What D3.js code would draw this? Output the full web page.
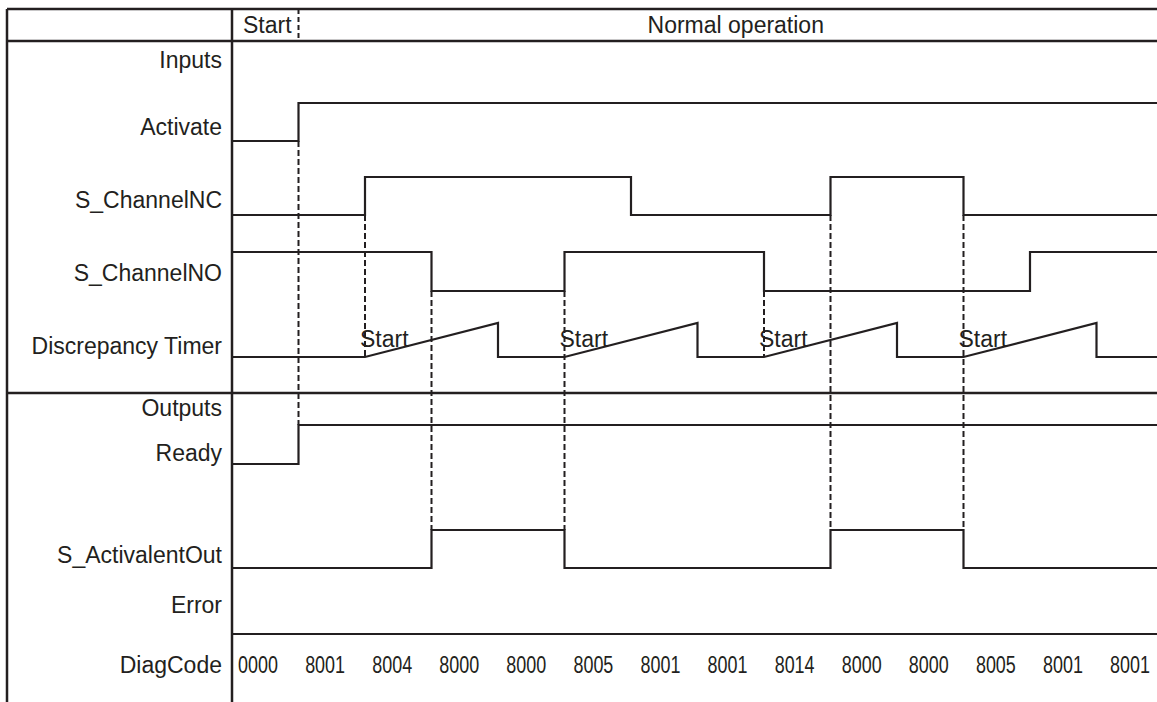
<!DOCTYPE html>
<html>
<head>
<meta charset="utf-8">
<script src="https://cdn.jsdelivr.net/npm/d3@7"></script>
<style>
  html, body { margin: 0; padding: 0; background: #fff; }
  svg { display: block; }
  text { font-family: "Liberation Sans", Arial, Helvetica, sans-serif; fill: #231f20; }
</style>
</head>
<body>
<svg id="chart" width="1157" height="702"></svg>
<script>
// ---------------- data ----------------
const phases = ["Start", "Normal operation"];
const phaseBounds = [[0, 1], [1, 14]];

const inputSignals = ["Activate", "S_ChannelNC", "S_ChannelNO", "Discrepancy Timer"];
const outputSignals = ["Ready", "S_ActivalentOut", "Error"];

// [time, level] change points
const activate      = [[0, 0], [1, 1], [14, 1]];
const channelNC     = [[0, 0], [2, 1], [6, 0], [9, 1], [11, 0], [14, 0]];
const channelNO     = [[0, 1], [3, 0], [5, 1], [8, 0], [12, 1], [14, 1]];
const timer         = [[0, 0], [2, 0], [4, 1], [4, 0], [5, 0], [7, 1], [7, 0], [8, 0], [10, 1], [10, 0], [11, 0], [13, 1], [13, 0], [14, 0]];
const ready         = [[0, 0], [1, 1], [14, 1]];
const activalentOut = [[0, 0], [3, 1], [5, 0], [9, 1], [11, 0], [14, 0]];
const errorSig      = [[0, 0], [14, 0]];

const timerStarts = [2, 5, 8, 11];
const diagCodes = ["0000", "8001", "8004", "8000", "8000", "8005", "8001", "8001", "8014", "8000", "8000", "8005", "8001", "8001"];

// dashed cause/effect markers: time, from signal (level), to signal (level)
const markers = [
  { t: 2,  from: ["S_ChannelNC", 0], to: ["Discrepancy Timer", 0] },
  { t: 3,  from: ["S_ChannelNO", 0], to: ["S_ActivalentOut", 1] },
  { t: 5,  from: ["S_ChannelNO", 0], to: ["S_ActivalentOut", 1] },
  { t: 8,  from: ["S_ChannelNO", 0], to: ["Discrepancy Timer", 0] },
  { t: 9,  from: ["S_ChannelNC", 0], to: ["S_ActivalentOut", 1] },
  { t: 11, from: ["S_ChannelNC", 0], to: ["S_ActivalentOut", 1] },
  { t: 1,  from: ["Activate", 0],    to: ["Ready", 1] }
];

// ---------------- layout ----------------
const W = 1157, H = 702;
const frameLeft = 7, divX = 232, frameTop = 9, headBot = 41, ioDiv = 393;
const ink = "#231f20";
const FS = 23;

// row geometry: label centre, low y, high y
const rows = {
  "Inputs":            { label: 60 },
  "Activate":          { label: 127, lo: 141, hi: 103 },
  "S_ChannelNC":       { label: 200, lo: 215, hi: 177 },
  "S_ChannelNO":       { label: 273, lo: 291, hi: 252 },
  "Discrepancy Timer": { label: 346, lo: 357, hi: 323 },
  "Outputs":           { label: 408 },
  "Ready":             { label: 453, lo: 464, hi: 425 },
  "S_ActivalentOut":   { label: 555, lo: 568, hi: 530 },
  "Error":             { label: 605, lo: 634, hi: 596 },
  "DiagCode":          { label: 665 }
};

const x = d3.scaleLinear().domain([0, 14]).range([divX, divX + 14 * 66.5]);
const yOf = name => d3.scaleLinear().domain([0, 1]).range([rows[name].lo, rows[name].hi]);

const svg = d3.select("#chart");

// frame
const frame = svg.append("g").attr("stroke", ink).attr("stroke-width", 2.5).attr("fill", "none");
frame.append("line").attr("x1", frameLeft).attr("x2", W).attr("y1", frameTop).attr("y2", frameTop);
frame.append("line").attr("x1", frameLeft).attr("x2", W).attr("y1", headBot).attr("y2", headBot);
frame.append("line").attr("x1", frameLeft).attr("x2", W).attr("y1", ioDiv).attr("y2", ioDiv);
frame.append("line").attr("x1", frameLeft).attr("x2", frameLeft).attr("y1", frameTop).attr("y2", H);
frame.append("line").attr("x1", divX).attr("x2", divX).attr("y1", frameTop).attr("y2", H);

// header phases
svg.append("line")
  .attr("x1", x(phaseBounds[0][1])).attr("x2", x(phaseBounds[0][1]))
  .attr("y1", frameTop).attr("y2", headBot)
  .attr("stroke", ink).attr("stroke-width", 2).attr("stroke-dasharray", "5,3");
svg.append("text").attr("x", x(0) + 11).attr("y", 33).attr("font-size", FS).text(phases[0]);
svg.append("text").attr("x", (x(1) + W) / 2 + 8).attr("y", 33).attr("font-size", FS)
  .attr("text-anchor", "middle").text(phases[1]);

// labels
Object.keys(rows).forEach(name => {
  svg.append("text")
    .attr("x", 222).attr("y", rows[name].label + 8)
    .attr("font-size", FS).attr("text-anchor", "end").text(name);
});

// dashed markers
svg.append("g").selectAll("line").data(markers).join("line")
  .attr("x1", d => x(d.t)).attr("x2", d => x(d.t))
  .attr("y1", d => yOf(d.from[0])(d.from[1]))
  .attr("y2", d => yOf(d.to[0])(d.to[1]))
  .attr("stroke", ink).attr("stroke-width", 2).attr("stroke-dasharray", "6,3");

// signals
const sigs = [
  ["Activate", activate, true], ["S_ChannelNC", channelNC, true], ["S_ChannelNO", channelNO, true],
  ["Discrepancy Timer", timer, false], ["Ready", ready, true], ["S_ActivalentOut", activalentOut, true],
  ["Error", errorSig, true]
];
sigs.forEach(([name, data, step]) => {
  const y = yOf(name);
  const line = d3.line().x(d => x(d[0])).y(d => y(d[1]))
    .curve(step ? d3.curveStepAfter : d3.curveLinear);
  svg.append("path").datum(data).attr("d", line)
    .attr("fill", "none").attr("stroke", ink).attr("stroke-width", 2.2)
    .attr("stroke-linejoin", "miter");
});

// timer start labels
const yT = yOf("Discrepancy Timer");
svg.append("g").selectAll("text").data(timerStarts).join("text")
  .attr("x", d => x(d) - 5).attr("y", yT(0) - 10)
  .attr("font-size", FS).text("Start");

// diag codes (narrow digits)
const xc = d3.scalePoint().domain(d3.range(diagCodes.length)).range([258, 1130]);
svg.append("g").selectAll("text").data(diagCodes).join("text")
  .attr("transform", (d, i) => `translate(${xc(i)},${rows["DiagCode"].label + 8}) scale(0.78,1)`)
  .attr("font-size", FS).attr("text-anchor", "middle")
  .text(d => d);
</script>
</body>
</html>
